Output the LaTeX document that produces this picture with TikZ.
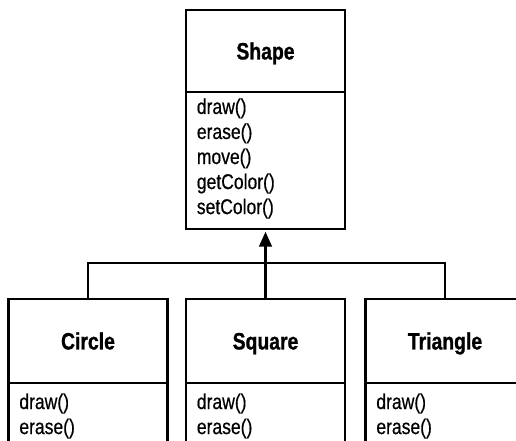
\documentclass[tikz,border=0pt]{standalone}
\usepackage{fontspec}
\setmainfont{Liberation Sans}[FakeStretch=0.82,
  UprightFeatures={FakeBold=0.5}, BoldFeatures={FakeBold=1}]
\usetikzlibrary{positioning,arrows.meta}

\tikzset{
  classname/.style={draw, line width=1.6pt, outer sep=0pt, inner sep=0pt,
    minimum width=3.98cm, minimum height=2.1cm, text height=12pt, text depth=0pt,
    font=\fontsize{16.8}{19}\selectfont\bfseries},
  methods/.style={draw, line width=1.6pt, outer sep=0pt, inner ysep=0pt,
    inner xsep=0.275cm, text width=3.43cm, align=left,
    font=\fontsize{15.2}{17.8}\selectfont},
  link/.style={line width=1.6pt},
}

\begin{document}
\begin{tikzpicture}[x=0.025cm, y=-0.025cm]
  \useasboundingbox (0,0) rectangle (516,441);
  \clip (0,0) rectangle (516,441);

  % base class
  \node [classname, minimum height=2.05cm](shape) at (265.5,51) {Shape};
  \node [methods, below=0pt of shape, text height=15.6pt, text depth=81.8pt](shapem)
    {draw()\\ erase()\\ move()\\ getColor()\\ setColor()};

  % subclasses
  \node [classname](circle) at (88,341) {Circle};
  \node [classname](square) at (265.5,341) {Square};
  \node [classname](triangle) at (445,341) {Triangle};

  \node [methods, below=0pt of circle, text height=18.5pt, text depth=3cm](circlem) {draw()\\ erase()};
  \node [methods, below=0pt of square, text height=18.5pt, text depth=3cm](squarem) {draw()\\ erase()};
  \node [methods, below=0pt of triangle, text height=18.5pt, text depth=3cm](trianglem) {draw()\\ erase()};

  % inheritance
  \coordinate (branch) at (265.5,263);
  \draw [link] (circle.north) |- (branch) -| (triangle.north);
  \draw [link, -{Triangle[length=10.5pt,width=9pt]}, shorten >=2pt]
    (square.north) -- (shapem.south);
\end{tikzpicture}
\end{document}
